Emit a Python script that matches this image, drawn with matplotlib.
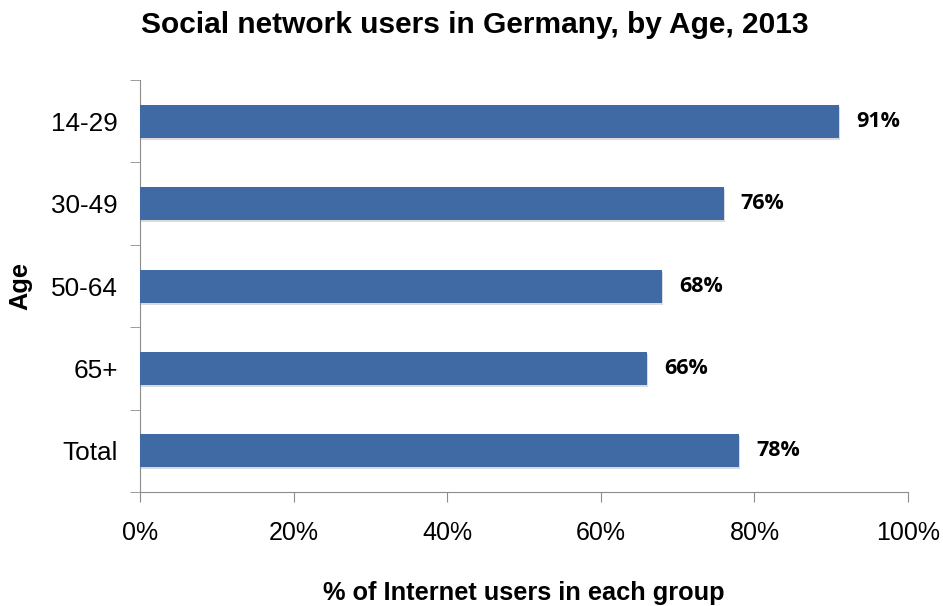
import matplotlib
matplotlib.use("Agg")
import matplotlib.pyplot as plt
import matplotlib.patheffects as pe
import numpy as np

age_groups = ["14-29", "30-49", "50-64", "65+", "Total"]
share_pct = [91, 76, 68, 66, 78]
x_ticks = [0, 20, 40, 60, 80, 100]
x_tick_labels = ["0%", "20%", "40%", "60%", "80%", "100%"]

bar_color = "#3F6AA3"
spine_color = "#8C8C8C"

plt.rcParams["font.family"] = ["Liberation Sans", "DejaVu Sans"]

fig = plt.figure(figsize=(9.43, 6.06), dpi=100)
ax = fig.add_axes([0.1485, 0.188, 0.8145, 0.680])

pos = np.arange(len(age_groups))
bars = ax.barh(pos, share_pct, height=0.4, color=bar_color, zorder=3)
for b in bars:
    b.set_path_effects([pe.SimplePatchShadow(offset=(0.8, -1.5), shadow_rgbFace="#888888", alpha=0.3),
                        pe.Normal()])

for y, v in zip(pos, share_pct):
    ax.text(v + 2.2, y, f"{v}%", va="center", ha="left", fontsize=15.5,
            fontweight="bold", family=["Open Sans", "DejaVu Sans"])

ax.set_xlim(0, 100)
ax.set_ylim(len(age_groups) - 0.5, -0.5)
ax.set_xticks(x_ticks)
ax.set_xticklabels(x_tick_labels, fontsize=18)
ax.set_yticks(pos)
ax.set_yticklabels(age_groups, fontsize=18.8)
ax.tick_params(axis="y", length=0, pad=16)
ax.tick_params(axis="x", length=7, color=spine_color, pad=14, direction="out")

# tick marks between categories on the y axis
ax.set_yticks(np.arange(-0.5, len(age_groups)), minor=True)
ax.tick_params(axis="y", which="minor", length=7, color=spine_color)

for side in ["top", "right"]:
    ax.spines[side].set_visible(False)
for side in ["left", "bottom"]:
    ax.spines[side].set_color(spine_color)
ax.spines["bottom"].set_bounds(0, 100)

ax.set_xlabel("% of Internet users in each group", fontsize=18.3, fontweight="bold", labelpad=26)
ax.set_ylabel("Age", fontsize=18.3, fontweight="bold")
ax.yaxis.set_label_coords(-0.1406, 0.5)
fig.suptitle("Social network users in Germany, by Age, 2013", fontsize=21.5,
             fontweight="bold", x=0.503, y=0.982)

fig.savefig("out.png", dpi=100)
